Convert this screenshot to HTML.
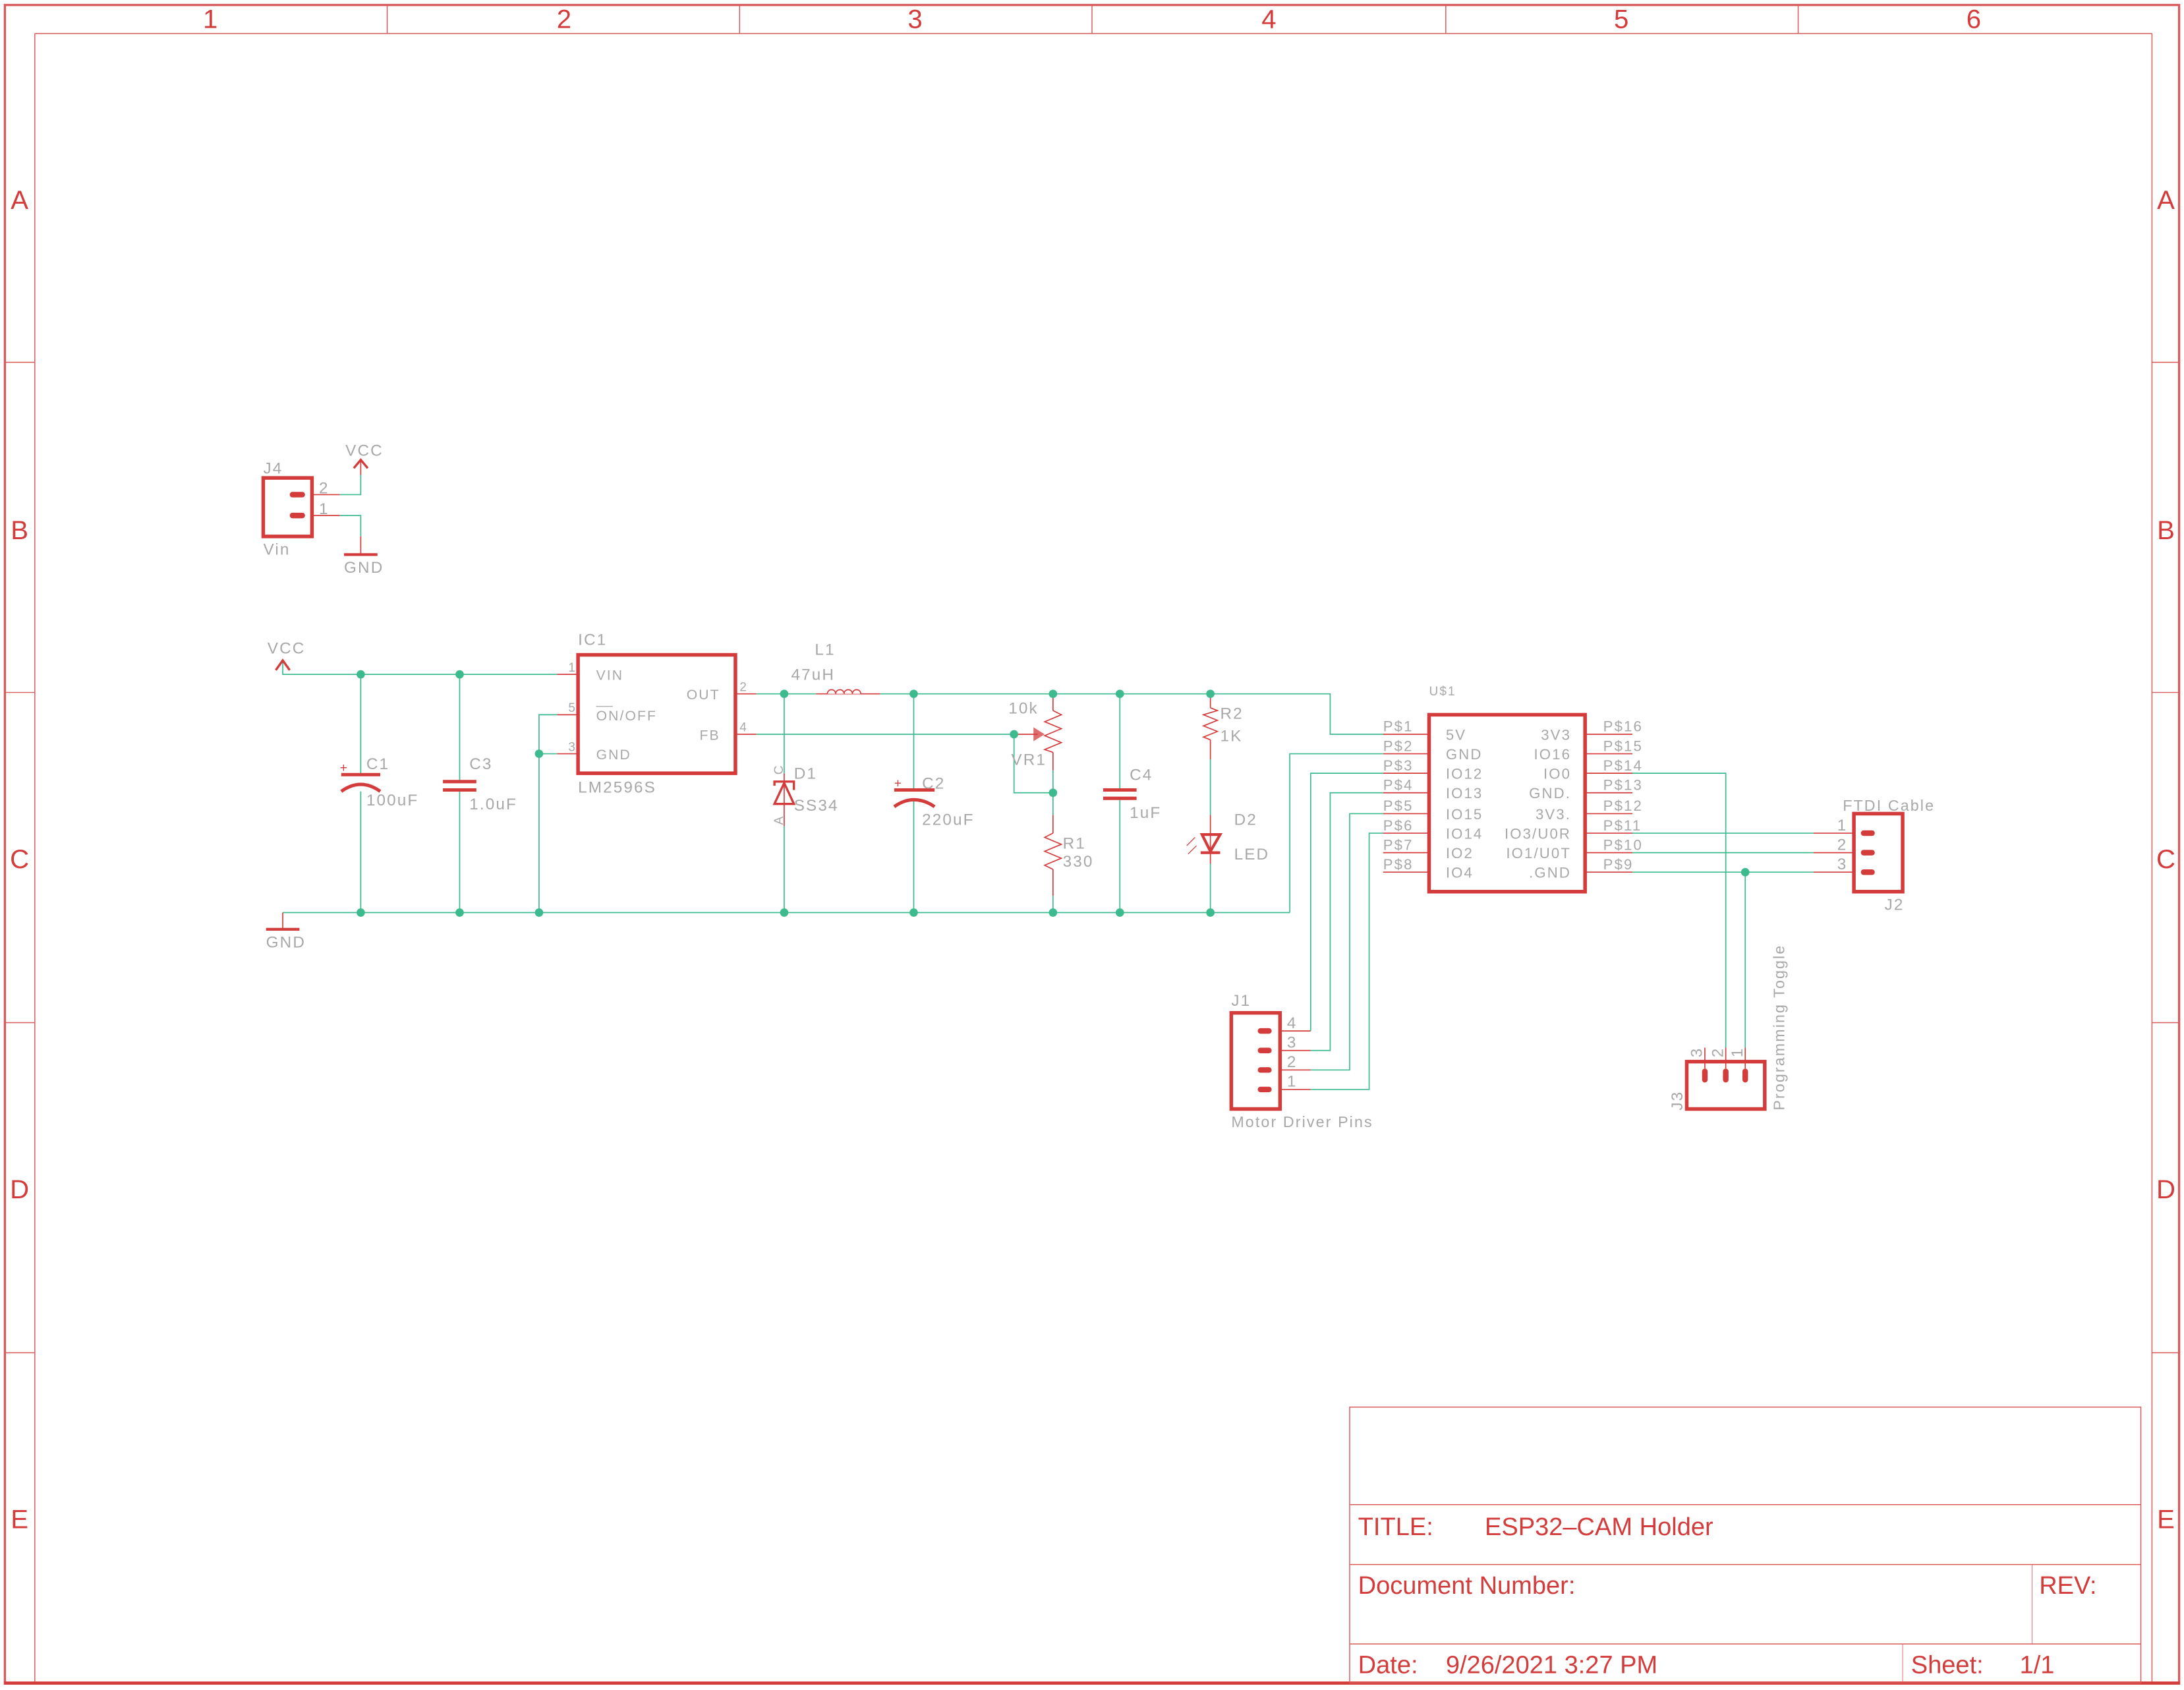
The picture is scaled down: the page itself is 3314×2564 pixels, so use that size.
<!DOCTYPE html>
<html><head><meta charset="utf-8"><style>
html,body{margin:0;padding:0;background:#fff;}
svg{display:block;}
text{font-family:"Liberation Sans",sans-serif;}
.g{fill:#a8a8a8;font-size:11.5px;letter-spacing:1px;}
.f{fill:#d43c3c;}
.w{stroke:#3dbb8e;stroke-width:0.8;fill:none;}
.r{stroke:#d43c3c;stroke-width:0.8;fill:none;}
.R{stroke:#d43c3c;stroke-width:2.6;fill:none;}
.fl{stroke:#d85a5a;stroke-width:0.7;fill:none;}
.j{fill:#3dbb8e;}
.pad{stroke:#d43c3c;stroke-width:4;stroke-linecap:round;}
</style></head><body>
<svg width="3314" height="2564" viewBox="0 0 1568 1213" xmlns="http://www.w3.org/2000/svg">
<rect x="0" y="0" width="1568" height="1213" fill="#fff"/>
<!-- frame -->
<rect x="3.5" y="3.5" width="1561" height="1205" class="fl" style="stroke-width:1.6"/>
<line x1="25" y1="24" x2="1545" y2="24" class="fl"/>
<line x1="25" y1="24" x2="25" y2="1208" class="fl"/>
<line x1="1545" y1="24" x2="1545" y2="1208" class="fl"/>
<line x1="3" y1="1208" x2="1565" y2="1208" stroke="#d43c3c" stroke-width="2"/>
<g class="fl">
<line x1="278" y1="3" x2="278" y2="24"/><line x1="531" y1="3" x2="531" y2="24"/><line x1="784" y1="3" x2="784" y2="24"/><line x1="1038" y1="3" x2="1038" y2="24"/><line x1="1291" y1="3" x2="1291" y2="24"/>
<line x1="3" y1="260" x2="25" y2="260"/><line x1="3" y1="497" x2="25" y2="497"/><line x1="3" y1="734" x2="25" y2="734"/><line x1="3" y1="971" x2="25" y2="971"/>
<line x1="1545" y1="260" x2="1565" y2="260"/><line x1="1545" y1="497" x2="1565" y2="497"/><line x1="1545" y1="734" x2="1565" y2="734"/><line x1="1545" y1="971" x2="1565" y2="971"/>
</g>
<g class="f" style="font-size:19px" text-anchor="middle">
<text x="151" y="20">1</text><text x="405" y="20">2</text><text x="657" y="20">3</text><text x="911" y="20">4</text><text x="1164" y="20">5</text><text x="1417" y="20">6</text>
<text x="14" y="150">A</text><text x="14" y="387">B</text><text x="14" y="623">C</text><text x="14" y="860">D</text><text x="14" y="1097">E</text>
<text x="1555" y="150">A</text><text x="1555" y="387">B</text><text x="1555" y="623">C</text><text x="1555" y="860">D</text><text x="1555" y="1097">E</text>
</g>
<!-- title block -->
<g class="fl">
<rect x="969" y="1010" width="568" height="198"/>
<line x1="969" y1="1080" x2="1537" y2="1080"/><line x1="969" y1="1123" x2="1537" y2="1123"/><line x1="969" y1="1180" x2="1537" y2="1180"/>
<line x1="1459" y1="1123" x2="1459" y2="1180" style="stroke-width:0.4"/><line x1="1366" y1="1180" x2="1366" y2="1208" style="stroke-width:0.4"/>
</g>
<g class="f" style="font-size:18px">
<text x="975" y="1102">TITLE:</text><text x="1066" y="1102">ESP32–CAM Holder</text>
<text x="975" y="1144">Document Number:</text><text x="1464" y="1144">REV:</text>
<text x="975" y="1201">Date:</text><text x="1038" y="1201">9/26/2021 3:27 PM</text>
<text x="1372" y="1201">Sheet:</text><text x="1450" y="1201">1/1</text>
</g>

<!-- J4 -->
<rect x="189" y="343" width="35" height="42" class="R"/>
<line x1="210" y1="355" x2="217" y2="355" class="pad"/><line x1="210" y1="370" x2="217" y2="370" class="pad"/>
<line x1="224" y1="355" x2="244" y2="355" class="r"/><line x1="224" y1="370" x2="244" y2="370" class="r"/>
<polyline points="244,355 259,355 259,341" class="w"/><line x1="259" y1="341" x2="259" y2="330" class="r"/>
<polyline points="254,336 259,330 264,336" class="r" style="stroke-width:1.6"/>
<polyline points="244,370 259,370 259,385" class="w"/><line x1="259" y1="385" x2="259" y2="398" class="r"/>
<line x1="247" y1="398" x2="271" y2="398" class="r" style="stroke-width:2"/>
<text class="g" x="189" y="340">J4</text><text class="g" x="189" y="398">Vin</text>
<text class="g" x="229" y="354">2</text><text class="g" x="229" y="369">1</text>
<text class="g" x="248" y="327">VCC</text><text class="g" x="247" y="411">GND</text>

<!-- VCC / GND main -->
<polyline points="203,475 203,484 400,484" class="w"/>
<polyline points="198,481 203,474 208,481" class="r" style="stroke-width:1.6"/>
<text class="g" x="192" y="469">VCC</text>
<line x1="203" y1="655" x2="926" y2="655" class="w"/>
<polyline points="926,655 926,541 993,541" class="w"/>
<line x1="203" y1="655" x2="203" y2="667" class="r"/>
<line x1="191" y1="667" x2="215" y2="667" class="r" style="stroke-width:2"/>
<text class="g" x="191" y="680">GND</text>

<!-- C1 -->
<line x1="259" y1="484" x2="259" y2="555" class="w"/><line x1="259" y1="568" x2="259" y2="655" class="w"/>
<line x1="245" y1="556" x2="273" y2="556" class="R" style="stroke-width:2.4"/>
<path d="M245,568 Q259,558 273,568" class="R" style="stroke-width:2.4"/>
<text class="g" x="263" y="552">C1</text><text class="g" x="263" y="578">100uF</text>
<text x="244" y="554" style="fill:#d43c3c;font-size:9px">+</text>
<!-- C3 -->
<line x1="330" y1="484" x2="330" y2="560" class="w"/><line x1="330" y1="568" x2="330" y2="655" class="w"/>
<line x1="318" y1="561" x2="342" y2="561" class="R" style="stroke-width:2.4"/>
<line x1="318" y1="567" x2="342" y2="567" class="R" style="stroke-width:2.4"/>
<text class="g" x="337" y="552">C3</text><text class="g" x="337" y="581">1.0uF</text>

<!-- IC1 -->
<rect x="415" y="470" width="113" height="85" class="R"/>
<line x1="400" y1="484" x2="415" y2="484" class="r"/><line x1="400" y1="513" x2="415" y2="513" class="r"/><line x1="400" y1="541" x2="415" y2="541" class="r"/>
<line x1="528" y1="498" x2="543" y2="498" class="r"/><line x1="528" y1="527" x2="543" y2="527" class="r"/>
<polyline points="400,513 387,513 387,655" class="w"/><line x1="387" y1="541" x2="400" y2="541" class="w"/>
<text class="g" x="415" y="463">IC1</text><text class="g" x="415" y="569">LM2596S</text>
<text class="g" x="428" y="488" style="font-size:10px">VIN</text>
<text class="g" x="428" y="517" style="font-size:10px">ON/OFF</text><line x1="428" y1="507" x2="440" y2="507" stroke="#a8a8a8" stroke-width="0.6"/>
<text class="g" x="428" y="545" style="font-size:10px">GND</text>
<text class="g" x="517" y="502" text-anchor="end" style="font-size:10px">OUT</text>
<text class="g" x="517" y="531" text-anchor="end" style="font-size:10px">FB</text>
<text class="g" x="408" y="482" style="font-size:9px">1</text><text class="g" x="408" y="511" style="font-size:9px">5</text><text class="g" x="408" y="539" style="font-size:9px">3</text>
<text class="g" x="531" y="496" style="font-size:9px">2</text><text class="g" x="531" y="525" style="font-size:9px">4</text>

<!-- OUT net -->
<line x1="543" y1="498" x2="586" y2="498" class="w"/>
<line x1="586" y1="498" x2="632" y2="498" class="r"/>
<path d="M594,498 a3,3 0 0 1 6,0 a3,3 0 0 1 6,0 a3,3 0 0 1 6,0 a3,3 0 0 1 6,0" class="r" style="fill:#fff"/>
<polyline points="632,498 955,498 955,527 993,527" class="w"/>
<text class="g" x="585" y="470">L1</text><text class="g" x="568" y="488">47uH</text>

<!-- D1 -->
<line x1="563" y1="498" x2="563" y2="555" class="w"/><line x1="563" y1="593" x2="563" y2="655" class="w"/>
<line x1="563" y1="555" x2="563" y2="593" class="r"/>
<polygon points="556,577 570,577 563,562" class="R" style="stroke-width:1.6"/>
<polyline points="556,564 556,561 570,561 570,567" class="R" style="stroke-width:1.6"/>
<text class="g" x="570" y="559">D1</text><text class="g" x="570" y="582">SS34</text>
<text class="g" x="0" y="0" transform="translate(562,556) rotate(-90)" style="font-size:9px">C</text>
<text class="g" x="0" y="0" transform="translate(562,592) rotate(-90)" style="font-size:9px">A</text>

<!-- C2 -->
<line x1="656" y1="498" x2="656" y2="566" class="w"/><line x1="656" y1="574" x2="656" y2="655" class="w"/>
<line x1="642" y1="567" x2="671" y2="567" class="R" style="stroke-width:2.4"/>
<path d="M642,579 Q656,569 671,579" class="R" style="stroke-width:2.4"/>
<text x="642" y="565" style="fill:#d43c3c;font-size:9px">+</text>
<text class="g" x="662" y="566">C2</text><text class="g" x="662" y="592">220uF</text>

<!-- VR1 / FB -->
<line x1="543" y1="527" x2="728" y2="527" class="w"/>
<line x1="728" y1="527" x2="745" y2="527" class="r"/>
<polygon points="742,522 750,527 742,532" fill="#d43c3c" opacity="0.75"/>
<polyline points="728,527 728,569 756,569" class="w"/>
<line x1="756" y1="498" x2="756" y2="510" class="r"/>
<polyline points="756,510 762,513 750,518 762,523 750,528 762,533 750,538 756,540" class="r"/>
<line x1="756" y1="540" x2="756" y2="553" class="r"/>
<line x1="756" y1="553" x2="756" y2="585" class="w"/>
<line x1="756" y1="585" x2="756" y2="598" class="r"/>
<polyline points="756,598 750,601 762,606 750,611 762,616 750,621 756,624" class="r"/>
<line x1="756" y1="624" x2="756" y2="643" class="r"/>
<line x1="756" y1="643" x2="756" y2="655" class="w"/>
<text class="g" x="724" y="512">10k</text><text class="g" x="726" y="549">VR1</text>
<text class="g" x="763" y="609">R1</text><text class="g" x="763" y="622">330</text>

<!-- C4 -->
<line x1="804" y1="498" x2="804" y2="566" class="w"/><line x1="804" y1="574" x2="804" y2="655" class="w"/>
<line x1="792" y1="567" x2="816" y2="567" class="R" style="stroke-width:2.4"/>
<line x1="792" y1="573" x2="816" y2="573" class="R" style="stroke-width:2.4"/>
<text class="g" x="811" y="560">C4</text><text class="g" x="811" y="587">1uF</text>

<!-- R2 / D2 -->
<line x1="869" y1="498" x2="869" y2="508" class="r"/>
<polyline points="869,508 874,510 864,513 874,517 864,521 874,525 864,529 869,531" class="r"/>
<line x1="869" y1="531" x2="869" y2="545" class="r"/>
<line x1="869" y1="545" x2="869" y2="585" class="w"/>
<line x1="869" y1="585" x2="869" y2="620" class="r"/>
<polygon points="863,599 876,599 869,611" class="R" style="stroke-width:2"/>
<line x1="862" y1="612" x2="876" y2="612" class="R" style="stroke-width:2"/>
<line x1="869" y1="620" x2="869" y2="655" class="w"/>
<line x1="852" y1="607" x2="858" y2="601" class="r" style="stroke-width:0.6"/><line x1="853" y1="613" x2="859" y2="607" class="r" style="stroke-width:0.6"/>
<text class="g" x="876" y="516">R2</text><text class="g" x="876" y="532">1K</text>
<text class="g" x="886" y="592">D2</text><text class="g" x="886" y="617">LED</text>

<!-- junctions -->
<g class="j">
<circle cx="259" cy="484" r="3"/><circle cx="330" cy="484" r="3"/>
<circle cx="259" cy="655" r="3"/><circle cx="330" cy="655" r="3"/><circle cx="387" cy="655" r="3"/><circle cx="387" cy="541" r="3"/>
<circle cx="563" cy="655" r="3"/><circle cx="656" cy="655" r="3"/><circle cx="756" cy="655" r="3"/><circle cx="804" cy="655" r="3"/><circle cx="869" cy="655" r="3"/>
<circle cx="563" cy="498" r="3"/><circle cx="656" cy="498" r="3"/><circle cx="756" cy="498" r="3"/><circle cx="804" cy="498" r="3"/><circle cx="869" cy="498" r="3"/>
<circle cx="728" cy="527" r="3"/><circle cx="756" cy="569" r="3"/><circle cx="1253" cy="626" r="3"/>
</g>

<!-- U$1 -->
<rect x="1026" y="513" width="112" height="127" class="R"/>
<text class="g" x="1026" y="499" style="font-size:9px">U$1</text>
<g class="r">
<line x1="993" y1="527" x2="1026" y2="527"/><line x1="993" y1="541" x2="1026" y2="541"/><line x1="993" y1="555" x2="1026" y2="555"/><line x1="993" y1="569" x2="1026" y2="569"/>
<line x1="993" y1="584" x2="1026" y2="584"/><line x1="993" y1="598" x2="1026" y2="598"/><line x1="993" y1="612" x2="1026" y2="612"/><line x1="993" y1="626" x2="1026" y2="626"/>
<line x1="1138" y1="527" x2="1172" y2="527"/><line x1="1138" y1="541" x2="1172" y2="541"/><line x1="1138" y1="555" x2="1172" y2="555"/><line x1="1138" y1="569" x2="1172" y2="569"/>
<line x1="1138" y1="584" x2="1172" y2="584"/><line x1="1138" y1="598" x2="1172" y2="598"/><line x1="1138" y1="612" x2="1172" y2="612"/><line x1="1138" y1="626" x2="1172" y2="626"/>
</g>
<g class="g" style="font-size:10.5px">
<text x="993" y="525">P$1</text><text x="993" y="539">P$2</text><text x="993" y="553">P$3</text><text x="993" y="567">P$4</text>
<text x="993" y="582">P$5</text><text x="993" y="596">P$6</text><text x="993" y="610">P$7</text><text x="993" y="624">P$8</text>
<text x="1151" y="525">P$16</text><text x="1151" y="539">P$15</text><text x="1151" y="553">P$14</text><text x="1151" y="567">P$13</text>
<text x="1151" y="582">P$12</text><text x="1151" y="596">P$11</text><text x="1151" y="610">P$10</text><text x="1151" y="624">P$9</text>
<text x="1038" y="531">5V</text><text x="1038" y="545">GND</text><text x="1038" y="559">IO12</text><text x="1038" y="573">IO13</text>
<text x="1038" y="588">IO15</text><text x="1038" y="602">IO14</text><text x="1038" y="616">IO2</text><text x="1038" y="630">IO4</text>
</g>
<g class="g" style="font-size:10.5px" text-anchor="end">
<text x="1128" y="531">3V3</text><text x="1128" y="545">IO16</text><text x="1128" y="559">IO0</text><text x="1128" y="573">GND.</text>
<text x="1128" y="588">3V3.</text><text x="1128" y="602">IO3/U0R</text><text x="1128" y="616">IO1/U0T</text><text x="1128" y="630">.GND</text>
</g>

<!-- right nets -->
<polyline points="1172,555 1239,555 1239,752" class="w"/><line x1="1239" y1="752" x2="1239" y2="767" class="r"/>
<line x1="1172" y1="598" x2="1302" y2="598" class="w"/><line x1="1302" y1="598" x2="1331" y2="598" class="r"/>
<line x1="1172" y1="612" x2="1302" y2="612" class="w"/><line x1="1302" y1="612" x2="1331" y2="612" class="r"/>
<line x1="1172" y1="626" x2="1302" y2="626" class="w"/><line x1="1302" y1="626" x2="1331" y2="626" class="r"/>
<line x1="1253" y1="626" x2="1253" y2="752" class="w"/><line x1="1253" y1="752" x2="1253" y2="767" class="r"/>
<line x1="1224" y1="752" x2="1224" y2="767" class="r"/>

<!-- J2 -->
<rect x="1331" y="584" width="35" height="56" class="R"/>
<line x1="1338" y1="598" x2="1344" y2="598" class="pad"/><line x1="1338" y1="612" x2="1344" y2="612" class="pad"/><line x1="1338" y1="626" x2="1344" y2="626" class="pad"/>
<text class="g" x="1319" y="596">1</text><text class="g" x="1319" y="610">2</text><text class="g" x="1319" y="624">3</text>
<text class="g" x="1323" y="582" style="font-size:11px">FTDI Cable</text><text class="g" x="1353" y="653">J2</text>

<!-- J3 -->
<rect x="1211" y="762" width="56" height="34" class="R"/>
<line x1="1224" y1="769" x2="1224" y2="775" class="pad"/><line x1="1239" y1="769" x2="1239" y2="775" class="pad"/><line x1="1253" y1="769" x2="1253" y2="775" class="pad"/>
<text class="g" transform="translate(1222,759) rotate(-90)">3</text>
<text class="g" transform="translate(1237,759) rotate(-90)">2</text>
<text class="g" transform="translate(1251,759) rotate(-90)">1</text>
<text class="g" transform="translate(1208,797) rotate(-90)">J3</text>
<text class="g" transform="translate(1281,797) rotate(-90)" style="font-size:11px">Programming Toggle</text>

<!-- J1 -->
<rect x="884" y="727" width="35" height="69" class="R"/>
<line x1="905" y1="740" x2="911" y2="740" class="pad"/><line x1="905" y1="754" x2="911" y2="754" class="pad"/><line x1="905" y1="768" x2="911" y2="768" class="pad"/><line x1="905" y1="782" x2="911" y2="782" class="pad"/>
<line x1="919" y1="740" x2="941" y2="740" class="r"/><line x1="919" y1="754" x2="941" y2="754" class="r"/><line x1="919" y1="768" x2="941" y2="768" class="r"/><line x1="919" y1="782" x2="941" y2="782" class="r"/>
<polyline points="941,740 941,555 993,555" class="w"/>
<polyline points="941,754 955,754 955,569 993,569" class="w"/>
<polyline points="941,768 969,768 969,584 993,584" class="w"/>
<polyline points="941,782 983,782 983,598 993,598" class="w"/>
<text class="g" x="924" y="738">4</text><text class="g" x="924" y="752">3</text><text class="g" x="924" y="766">2</text><text class="g" x="924" y="780">1</text>
<text class="g" x="884" y="722">J1</text><text class="g" x="884" y="809" style="font-size:11px">Motor Driver Pins</text>
</svg>
</body></html>
